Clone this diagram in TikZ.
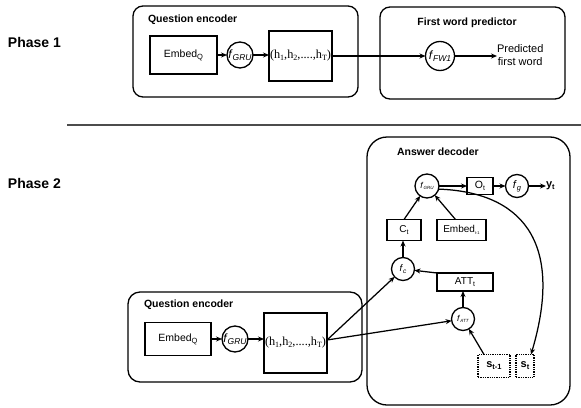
\documentclass[tikz,border=0pt]{standalone}
\usepackage{fontspec}
\setmainfont{Liberation Sans}
\newfontfamily\serifh{Liberation Serif}
\usetikzlibrary{arrows.meta}

% text at a given size, and a lowered subscript
\newcommand{\sz}[2]{{\fontsize{#1pt}{#1pt}\selectfont #2}}
\newcommand{\dn}[3]{\raisebox{-#1pt}{\fontsize{#2pt}{#2pt}\selectfont #3}}
\newcommand{\fn}[4]{\sz{#1}{\textit{f}}\dn{#3}{#2}{\textit{#4}}}
\newcommand{\hseq}{{\serifh\fontsize{12.3pt}{12.3pt}\selectfont (h\dn{1.5}{8}{1},h\dn{1.5}{8}{2},....,h\dn{1.5}{8}{T})}}

\begin{document}
\begin{tikzpicture}[x=1pt,y=-1pt,
  every node/.style={inner sep=0pt, outer sep=0pt},
  conn/.style={line width=1.25pt, -{Stealth[length=6pt,width=5pt]}},
  group/.style={draw, line width=1.3pt, rounded corners=#1},
  blk/.style={draw, line width=1.3pt},
  hblk/.style={draw, line width=1.3pt, text width=63pt, align=left},
  fun/.style={draw, circle, line width=1.3pt},
  dotbox/.style={draw, line width=1.3pt, densely dotted},
  title/.style={font=\bfseries\fontsize{10.5pt}{10.5pt}\selectfont},
  phase/.style={font=\bfseries\fontsize{14pt}{14pt}\selectfont, anchor=west},
  lbl/.style={font=\fontsize{10.5pt}{10.5pt}\selectfont}
]
\useasboundingbox (0,0) rectangle (581,407);

% phase labels and separator
\node[phase] (p1) at (8,42) {Phase 1};
\node[phase] (p2) at (8,183) {Phase 2};
\coordinate (sepa) at (67,125);
\coordinate (sepb) at (581,125);
\draw[line width=2pt, black!70] (sepa) -- (sepb);

% ---------- phase 1 ----------
\node[group=10pt, minimum width=225pt, minimum height=91pt] (qe1) at (245.5,51.5) {};
\node[title, anchor=west] (qe1t) at (148,20) {Question encoder};
\node[blk, lbl, minimum width=67pt, minimum height=38pt] (emb1) at (183.5,55) {Embed\dn{2}{7.5}{Q}};
\node[fun, minimum size=26pt] (gru1) at (240,55) {\fn{12}{8.5}{2}{GRU}};
\node[hblk, minimum height=50pt] (h1) at (300.5,56) {\hspace{1pt}\hseq};

\node[group=10pt, minimum width=185pt, minimum height=92pt] (fw) at (472.5,53) {};
\node[title] (fwt) at (467,23) {First word predictor};
\node[fun, minimum size=29pt] (fw1) at (440,56) {\fn{12}{8.5}{2}{FW1}};
\node[align=center, anchor=west, font=\fontsize{11pt}{13.5pt}\selectfont] (pred) at (497,55) {Predicted\\first word};

\draw[conn] (emb1.east) -- (gru1.west);
\draw[conn] (gru1.east) -- (gru1.east -| h1.west);
\draw[conn] (h1.east) -- (fw1.west);
\draw[conn] (fw1.east) -- (fw1.east -| pred.west);

% ---------- phase 2: question encoder ----------
\node[group=12pt, minimum width=234pt, minimum height=90pt] (qe2) at (245,337) {};
\node[title, anchor=west] (qe2t) at (144,305) {Question encoder};
\node[blk, lbl, minimum width=66pt, minimum height=33pt] (emb2) at (178,339) {Embed\dn{2}{7.5}{Q}};
\node[fun, minimum size=26pt] (gru2) at (235,339) {\fn{12}{8.5}{2}{GRU}};
\node[hblk, minimum height=60pt] (h2) at (295.5,343) {\hspace{1pt}\hseq};
\coordinate (hout) at ([yshift=3pt]h2.east);

\draw[conn] (emb2.east) -- (gru2.west);
\draw[conn] (gru2.east) -- (gru2.east -| h2.west);

% ---------- phase 2: answer decoder ----------
\node[group=20pt, minimum width=203pt, minimum height=268pt] (ad) at (468.5,271) {};
\node[title, anchor=west] (adt) at (397,152) {Answer decoder};

\node[fun, minimum size=24pt] (gru3) at (427,186) {\fn{8.5}{4.5}{1}{GRU}};
\node[blk, minimum width=26pt, minimum height=17pt] (ot) at (480,186) {\sz{10.5}{O}\dn{2}{7}{t}};
\node[fun, minimum size=23pt] (fg) at (517,186) {\fn{11}{7.5}{2}{g}};
\node[anchor=west] (yt) at (546,186) {\sz{11}{\bfseries y}\dn{2}{7.5}{\bfseries t}};

\node[blk, minimum width=34pt, minimum height=21pt] (ct) at (404,230) {\sz{10}{C}\dn{2}{7}{t}};
\node[blk, minimum width=49pt, minimum height=21pt] (emb3) at (461.5,230) {\sz{10}{Embed}\dn{1.5}{4}{t-1}};

\node[fun, minimum size=23pt] (fc) at (403,269) {\fn{9.5}{6.5}{1.5}{c}};
\node[blk, minimum width=56pt, minimum height=18pt] (att) at (465,282) {\sz{10}{ATT}\dn{2}{7}{t}};
\node[fun, minimum size=23pt] (fatt) at (463,319) {\fn{8.5}{4.5}{1}{ATT}};

\node[dotbox, minimum width=32pt, minimum height=23pt] (st1) at (494,366) {\sz{11}{\bfseries s}\dn{2}{7.5}{\bfseries t-1}};
\node[dotbox, minimum width=18pt, minimum height=23pt] (st) at (525,366) {\sz{11}{\bfseries s}\dn{2}{7.5}{\bfseries t}};

\draw[conn] (hout) -- (fc);
\draw[conn] (hout) -- (fatt);
\draw[conn] ([xshift=-10pt]st1.north) -- (fatt);
\draw[conn] (fatt.north) -- (fatt.north |- att.south);
\draw[conn] (att.north west) -- (fc);
\draw[conn] (fc.north) -- (fc.north |- ct.south);
\draw[conn] (ct.north) -- (gru3);
\draw[conn] ([xshift=-6pt]emb3.north) -- (gru3);
\draw[conn] (gru3.east) -- (gru3.east -| ot.west);
\draw[conn] (ot.east) -- (ot.east -| fg.west);
\draw[conn] (fg.east) -- (yt.west);
\draw[conn] (gru3.-15) .. controls (520,192) and (565,240) .. ([xshift=6pt]st.north);
\end{tikzpicture}
\end{document}
